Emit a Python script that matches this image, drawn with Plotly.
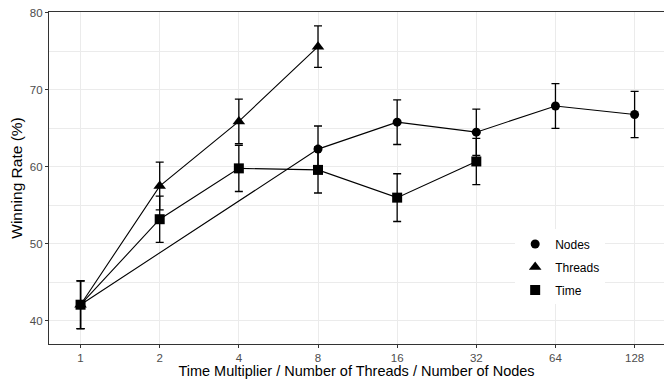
import plotly.graph_objects as go

x_vals = [1, 2, 4, 8, 16, 32, 64, 128]
tick_labels = ["1", "2", "4", "8", "16", "32", "64", "128"]

nodes_x = [1, 8, 16, 32, 64, 128]
nodes_y = [42.1, 62.3, 65.8, 64.5, 67.9, 66.8]
nodes_err = [3.1, 3.0, 2.9, 3.0, 2.9, 3.0]

threads_x = [1, 2, 4, 8]
threads_y = [42.1, 57.5, 65.9, 75.6]
threads_err = [3.1, 3.1, 2.9, 2.7]

time_x = [1, 2, 4, 8, 16, 32]
time_y = [42.1, 53.2, 59.8, 59.6, 56.0, 60.7]
time_err = [3.1, 3.0, 3.0, 3.0, 3.1, 3.0]

series = [
    ("Nodes", nodes_x, nodes_y, nodes_err, "circle", 9),
    ("Threads", threads_x, threads_y, threads_err, "triangle-up", 11),
    ("Time", time_x, time_y, time_err, "square", 10),
]

fig = go.Figure()
for name, xs, ys, es, sym, sz in series:
    fig.add_trace(go.Scatter(
        x=xs, y=ys, mode="lines+markers", name=name, showlegend=False,
        line=dict(color="black", width=1.1),
        marker=dict(symbol=sym, size=sz, color="black"),
        error_y=dict(type="data", array=es, visible=True, color="black",
                     thickness=1.3, width=4),
    ))
for name, xs, ys, es, sym, sz in series:
    fig.add_trace(go.Scatter(
        x=[None], y=[None], mode="markers", name=name, legendgroup=name,
        marker=dict(symbol=sym, size=sz, color="black"),
    ))

font_family = "Liberation Sans, Arial, sans-serif"
fig.update_layout(
    width=664, height=379,
    margin=dict(l=49, r=0, t=12, b=35),
    plot_bgcolor="white", paper_bgcolor="white",
    font=dict(family=font_family, color="black"),
    legend=dict(x=0.758, y=0.345, xanchor="left", yanchor="top",
                bgcolor="white", borderwidth=0, tracegroupgap=4,
                font=dict(size=12, color="black")),
    xaxis=dict(
        type="log", range=[-0.12, 2.219],
        tickvals=x_vals, ticktext=tick_labels,
        showgrid=True, gridcolor="#EBEBEB", gridwidth=1.07,
        showline=True, linecolor="#333333", linewidth=1.07, mirror=True,
        ticks="outside", ticklen=3, tickcolor="#333333", tickwidth=1,
        tickfont=dict(size=11.5, color="#4D4D4D"),
        zeroline=False,
        title=dict(text="Time Multiplier / Number of Threads / Number of Nodes",
                   font=dict(size=14.5, color="black"), standoff=2),
    ),
    yaxis=dict(
        range=[37.0, 80.1],
        tickvals=[40, 50, 60, 70, 80],
        showgrid=True, gridcolor="#EBEBEB", gridwidth=1.07,
        minor=dict(tickvals=[45, 55, 65, 75], showgrid=True,
                   gridcolor="#EBEBEB", gridwidth=0.55, ticks=""),
        showline=True, linecolor="#333333", linewidth=1.07, mirror=True,
        ticks="outside", ticklen=3, tickcolor="#333333", tickwidth=1,
        tickfont=dict(size=11.5, color="#4D4D4D"),
        zeroline=False,
        title=dict(text="Winning Rate (%)", font=dict(size=15.5, color="black"),
                   standoff=3),
    ),
)

fig.write_html("out.html")
